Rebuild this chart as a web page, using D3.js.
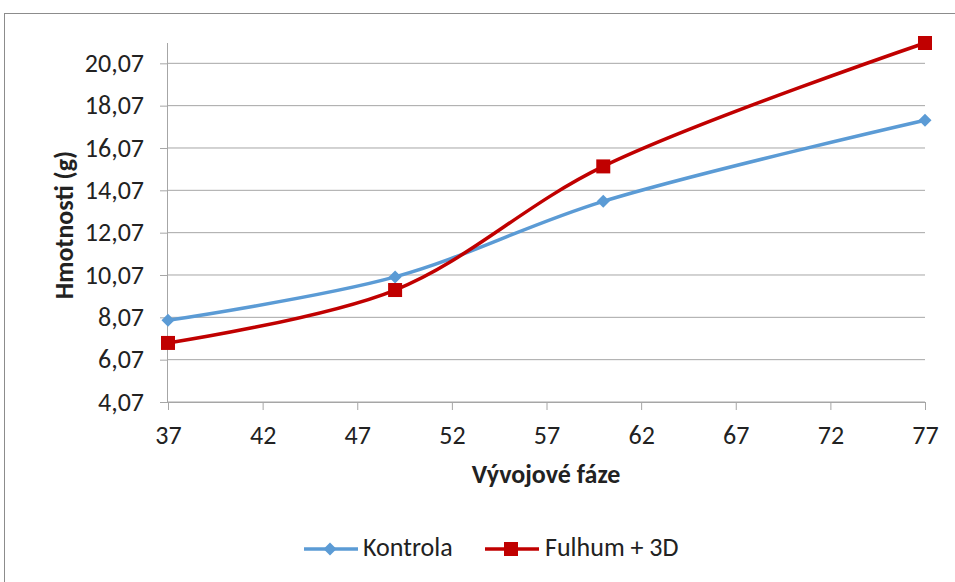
<!DOCTYPE html>
<html>
<head>
<meta charset="utf-8">
<script src="https://cdn.jsdelivr.net/npm/d3@7"></script>
<style>
  body { margin: 0; background: #fff; }
  text { font-family: Carlito, "Open Sans", "Liberation Sans", sans-serif; fill: #222; }
</style>
</head>
<body>
<svg id="chart" width="955" height="582"></svg>
<script>
// x values (developmental phases)
const phases = [37, 49, 60, 77];
// series values (g)
const kontrola = [7.93, 9.98, 13.55, 17.38];
const fulhum = [6.86, 9.36, 15.2, 21.03];
const xTicks = [37, 42, 47, 52, 57, 62, 67, 72, 77];
const yTicks = [4.07, 6.07, 8.07, 10.07, 12.07, 14.07, 16.07, 18.07, 20.07];

const series = [
  { name: "Kontrola", values: kontrola, color: "#5b9bd5", marker: "diamond" },
  { name: "Fulhum + 3D", values: fulhum, color: "#c00000", marker: "square" }
];

const fontSize = 26;
const svg = d3.select("#chart");
const margin = { top: 43, left: 168 };
const width = 925 - margin.left;
const height = 402 - margin.top;

// outer chart border
svg.append("rect")
  .attr("x", 4.5).attr("y", 13.5)
  .attr("width", 960).attr("height", 600)
  .attr("fill", "none").attr("stroke", "#8c8c8c");

const g = svg.append("g").attr("transform", `translate(${margin.left},${margin.top})`);

const x = d3.scaleLinear().domain([37, 77]).range([0, width]);
const y = d3.scaleLinear().domain([4.07, 21.03]).range([height, 0]);

// gridlines
g.selectAll(".grid")
  .data(yTicks)
  .enter()
  .append("line")
  .attr("x1", 0).attr("x2", width)
  .attr("y1", d => y(d)).attr("y2", d => y(d))
  .attr("stroke", "#a6a6a6").attr("stroke-width", 1);

// y axis
const yAxis = g.append("g")
  .call(d3.axisLeft(y).tickValues(yTicks).tickSize(8).tickPadding(16)
    .tickFormat(d => d3.format(".2f")(d).replace(".", ",")));
yAxis.select(".domain").attr("stroke", "#a6a6a6").attr("d", `M-0.5,${height}V0`);
yAxis.selectAll(".tick line").attr("stroke", "#a6a6a6");
yAxis.selectAll("text").attr("font-size", fontSize).attr("fill", "#222");

// x axis
const xAxis = g.append("g")
  .attr("transform", `translate(0,${height})`)
  .call(d3.axisBottom(x).tickValues(xTicks).tickSize(8).tickPadding(16));
xAxis.select(".domain").attr("stroke", "#a6a6a6");
xAxis.selectAll(".tick line").attr("stroke", "#a6a6a6");
xAxis.selectAll("text").attr("font-size", fontSize).attr("fill", "#222");

// axis titles
svg.append("text")
  .attr("x", 546).attr("y", 483)
  .attr("text-anchor", "middle")
  .attr("font-size", fontSize).attr("font-weight", "bold")
  .text("Vývojové fáze");

svg.append("text")
  .attr("transform", "translate(73,225) rotate(-90)")
  .attr("text-anchor", "middle")
  .attr("font-size", fontSize).attr("font-weight", "bold")
  .text("Hmotnosti (g)");

const line = d3.line()
  .curve(d3.curveCatmullRom.alpha(0.5))
  .x((d, i) => x(phases[i]))
  .y(d => y(d));

function drawMarker(sel, type, color) {
  if (type === "diamond") {
    const s = 6.5;
    sel.append("path")
      .attr("d", `M0,${-s}L${s},0L0,${s}L${-s},0Z`)
      .attr("fill", color);
  } else {
    const s = 7;
    sel.append("rect")
      .attr("x", -s).attr("y", -s)
      .attr("width", s * 2).attr("height", s * 2)
      .attr("fill", color);
  }
}

series.forEach(s => {
  g.append("path")
    .datum(s.values)
    .attr("fill", "none")
    .attr("stroke", s.color)
    .attr("stroke-width", 3.5)
    .attr("d", line);

  g.selectAll(null)
    .data(s.values)
    .enter()
    .append("g")
    .attr("transform", (d, i) => `translate(${x(phases[i])},${y(d)})`)
    .each(function () {
      drawMarker(d3.select(this), s.marker, s.color);
    });
});

// legend
const legendItems = [
  { s: series[0], x: 304, textX: 363 },
  { s: series[1], x: 485, textX: 545 }
];
legendItems.forEach(item => {
  const lg = svg.append("g").attr("transform", `translate(${item.x},549)`);
  lg.append("line")
    .attr("x1", 0).attr("x2", 54)
    .attr("stroke", item.s.color).attr("stroke-width", 3.5);
  const m = lg.append("g").attr("transform", "translate(26,0)");
  drawMarker(m, item.s.marker, item.s.color);
  svg.append("text")
    .attr("x", item.textX).attr("y", 556)
    .attr("font-size", fontSize)
    .text(item.s.name);
});
</script>
</body>
</html>
